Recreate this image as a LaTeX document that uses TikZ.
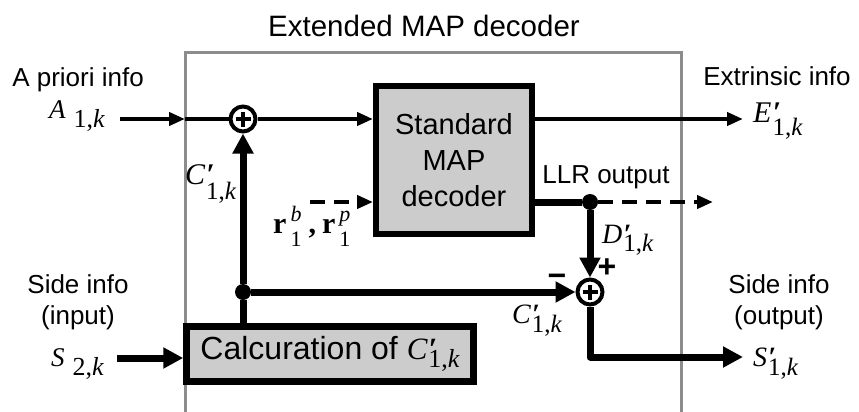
\documentclass[tikz,border=0pt]{standalone}
\usepackage{fontspec}
\setmainfont{Liberation Sans}
\newfontfamily\tms{Liberation Serif}
\usetikzlibrary{arrows.meta}
\definecolor{framegray}{gray}{0.55}
\definecolor{boxfill}{gray}{0.8}
\newcommand{\fsz}[2]{\fontsize{#1}{#2}\selectfont}
% #1 letter size, #2 letter, #3 subscript size, #4 subscript drop, #5 subscript
\newcommand{\psym}[5]{{\tms\fsz{#1}{#1}\itshape #2}\rlap{\hspace{1.5pt}{\tms\fsz{#1}{#1}\bfseries ′}}\hspace{1pt}\raisebox{-#4}{\tms\fsz{#3}{#3}#5}}
\newcommand{\supsub}[2]{\rlap{\raisebox{12pt}{\tms\fsz{22}{22}\itshape #1}}\raisebox{-13pt}{\tms\fsz{22}{22}#2}}
\begin{document}
\begin{tikzpicture}[x=1pt,y=-1pt,
  thinln/.style={line width=4pt},
  thickln/.style={line width=7pt},
  thinarr/.style={line width=4pt,-{Triangle[length=16pt,width=13pt]}},
  thickarr/.style={line width=7pt,-{Triangle[length=20pt,width=20pt]}},
  dasharr/.style={thinarr,dash pattern=on 15pt off 9pt},
  lbl/.style={font=\fsz{26}{31},inner sep=0pt},
  mlbl/.style={inner sep=0pt},
  adder/.style={circle,draw,line width=4pt,minimum size=25pt,inner sep=0pt,fill=white,
    path picture={\draw[line width=3.5pt]
      ([xshift=-7.5pt]path picture bounding box.center) -- ([xshift=7.5pt]path picture bounding box.center)
      ([yshift=-7.5pt]path picture bounding box.center) -- ([yshift=7.5pt]path picture bounding box.center);}},
  jdot/.style={circle,fill=black,inner sep=0pt,minimum size=16pt},
  blockbox/.style={draw,fill=boxfill,inner sep=0pt,align=center}
]
\useasboundingbox (0,0) rectangle (859,412);

% frame of the extended decoder
\draw[framegray,line width=3pt] (185,412) |- (681,53) -- (681,412);
\node[font=\fsz{29.5}{35},anchor=base,inner sep=0pt] (title) at (424,37) {Extended MAP decoder};

% blocks
\node[blockbox,line width=6pt,minimum width=156pt,minimum height=148pt,font=\fsz{29}{36}] (map) at (454,160)
  {\raisebox{-4pt}{\parbox{150pt}{\centering Standard\\MAP\\decoder}}};
\node[blockbox,line width=6.5pt,minimum width=287pt,minimum height=55pt,font=\fsz{32}{36}] (calc) at (330,354)
  {\raisebox{-2pt}{Calcuration of \psym{31}{C}{26}{8pt}{1,\itshape k}}};
\node[adder] (add1) at (243,119) {};
\node[adder] (add2) at (590,292) {};
\node[jdot] (dot1) at (590,202) {};
\node[jdot] (dot2) at (243,292) {};

% free ends
\coordinate (astart) at (120,119);
\coordinate (ain) at (185,119);
\coordinate (eend) at (743,119);
\coordinate (llrend) at (713,202);
\coordinate (rstart) at (310,202);
\coordinate (sstart) at (117,358);
\coordinate (send) at (743,357);

% labels
\node[lbl,anchor=base] (apri) at (78,86) {A priori info};
\node[mlbl,anchor=base west] (alab) at (49,118)
  {{\tms\fsz{27}{27}\itshape A}\hspace{8pt}\raisebox{-9pt}{\tms\fsz{26}{26}1,\itshape k}};
\node[lbl,anchor=base] (extr) at (777,85) {Extrinsic info};
\node[mlbl,anchor=base west] (elab) at (753,122) {\psym{30}{E}{25}{13pt}{1,\itshape k}};
\node[mlbl,anchor=base west] (c1lab) at (185,184) {\psym{30}{C}{25}{15pt}{1,\itshape k}};
\node[mlbl,anchor=base west] (rlab) at (273,233)
  {{\tms\fsz{30}{30}\bfseries r}\hspace{4pt}\supsub{b}{1}\hspace{7pt}{\tms\fsz{30}{30}\bfseries ,}\hspace{6pt}{\tms\fsz{30}{30}\bfseries r}\hspace{4pt}\supsub{p}{1}};
\node[lbl,anchor=base] (llr) at (606,183) {LLR output};
\node[mlbl,anchor=base west] (dlab) at (602,243) {\psym{28}{D}{25}{8pt}{1,\itshape k}};
\node[font=\fsz{32}{36}\bfseries,anchor=base,inner sep=0pt] (plus) at (607,277) {+};
\node[font=\fsz{32}{36}\bfseries,anchor=base,inner sep=0pt] (minus) at (557,286) {−};
\node[mlbl,anchor=base west] (c2lab) at (512,323) {\psym{28}{C}{25}{9pt}{1,\itshape k}};
\node[lbl,anchor=base] (sidein1) at (78,293) {Side info};
\node[lbl,anchor=base] (sidein2) at (78,324) {(input)};
\node[mlbl,anchor=base west] (slab) at (51,366)
  {{\tms\fsz{27}{27}\itshape S}\hspace{8pt}\raisebox{-9pt}{\tms\fsz{26}{26}2,\itshape k}};
\node[lbl,anchor=base] (sideout1) at (779,293) {Side info};
\node[lbl,anchor=base] (sideout2) at (779,324) {(output)};
\node[mlbl,anchor=base west] (soutlab) at (753,366) {\psym{28}{S}{25}{9pt}{1,\itshape k}};

% connectors
\draw[thinarr] (astart) -- (ain);
\draw[thinln] (ain) -- (add1);
\draw[thinarr] (add1) -- (map.west |- add1);
\draw[thinarr] (map.east |- add1) -- (eend);
\draw[dasharr] (rstart) -- (map.west |- rstart);
\draw[thickln] (map.east |- dot1) -- (dot1);
\draw[dasharr] (dot1) -- (llrend);
\draw[thickarr] (dot1) -- (add2);
\draw[thickln] (calc.north -| dot2) -- (dot2);
\draw[thickarr] (dot2) -- (add1);
\draw[thickarr] (dot2) -- (add2);
\draw[thickarr,line join=round] (add2) |- (send);
\draw[thickarr] (sstart) -- (calc.west |- sstart);
\end{tikzpicture}
\end{document}
